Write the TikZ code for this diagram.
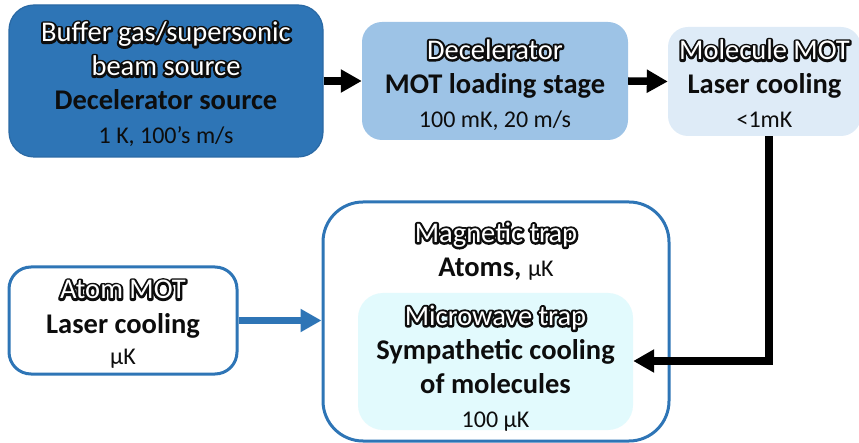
\documentclass[tikz,border=0pt]{standalone}
\usepackage{fontspec}
\setmainfont{Carlito}
\usetikzlibrary{arrows.meta}
\definecolor{dblue}{HTML}{2E75B6}
\definecolor{dblueline}{HTML}{2A69A4}
\definecolor{mblue}{HTML}{9DC3E6}
\definecolor{lblue}{HTML}{DEEBF7}
\definecolor{lcyan}{HTML}{E2FAFD}
\definecolor{txt}{HTML}{0D0D0D}
\newcommand{\ttl}[1]{\leavevmode\rlap{\special{pdf:code q 1 Tr 4.4 w 1 j 0.05 0.05 0.05 RG}#1\special{pdf:code Q}}\textcolor{white}{#1}}
\newcommand{\smalltxt}{\fontsize{24}{34}\selectfont}
\begin{document}
\begin{tikzpicture}[x=1pt,y=-1pt,
  box/.style={rounded corners=#1, inner sep=0pt},
  lbl/.style={align=center, inner sep=0pt, text=txt,
    font=\fontsize{28.5}{34}\selectfont},
  blk/.style={draw=black, line width=7.5pt, line join=miter,
    -{Triangle[length=21pt,width=22pt]}},
  barrow/.style={draw=dblue, line width=7pt,
    -{Triangle[length=21pt,width=22pt]}}]
\useasboundingbox (0,0) rectangle (859,443);

% top row
\node[box=25pt, fill=dblue, draw=dblueline, line width=1.2pt,
  minimum width=314pt, minimum height=152pt] (b1) at (166,81) {};
\node[lbl] (b1t) at (166,84.5)
  {\ttl{Buffer gas/supersonic}\\ \ttl{beam source}\\ \textbf{Decelerator source}\\ {\smalltxt 1 K, 100’s m/s}};

\node[box=20pt, fill=mblue, minimum width=266pt, minimum height=118pt] (b2) at (495,81) {};
\node[lbl] (b2t) at (495,85)
  {\ttl{Decelerator}\\ \textbf{MOT loading stage}\\ {\smalltxt 100 mK, 20 m/s}};

\node[box=20pt, fill=lblue, minimum width=193pt, minimum height=109pt] (b3) at (764.5,81.5) {};
\node[lbl] (b3t) at (764.5,84)
  {\ttl{Molecule MOT}\\ \textbf{Laser cooling}\\ {\smalltxt <1mK}};

% magnetic trap
\node[box=40pt, draw=dblue, line width=3pt, fill=white,
  minimum width=346pt, minimum height=239pt] (big) at (496,321.5) {};
\node[lbl] (bigt) at (496,251.5)
  {\ttl{Magnetic trap}\\ \textbf{Atoms,} {\smalltxt µK}};

\node[box=25pt, fill=lcyan, minimum width=275pt, minimum height=137pt] (inner) at (495.5,361.5) {};
\node[lbl] (innert) at (495.5,368.5)
  {\ttl{Microwave trap}\\ \textbf{Sympathetic cooling}\\ \textbf{of molecules}\\ {\smalltxt 100 µK}};

% atom MOT
\node[box=22pt, draw=dblue, line width=3pt, fill=white,
  minimum width=228pt, minimum height=107pt] (atom) at (123,320.5) {};
\node[lbl] (atomt) at (123,324.5)
  {\ttl{Atom MOT}\\[1pt] \textbf{Laser cooling}\\[-3pt] {\smalltxt µK}};

% connectors
\draw[blk] (b1.east) -- (b2.west);
\draw[blk] (b2.east) -- (b3.west);
\coordinate (k) at (769,361);
\draw[blk] (b3.south -| k) -- (k) -- (inner.east |- k);
\draw[barrow] (atom.east) -- (atom.east -| big.west);
\end{tikzpicture}
\end{document}
